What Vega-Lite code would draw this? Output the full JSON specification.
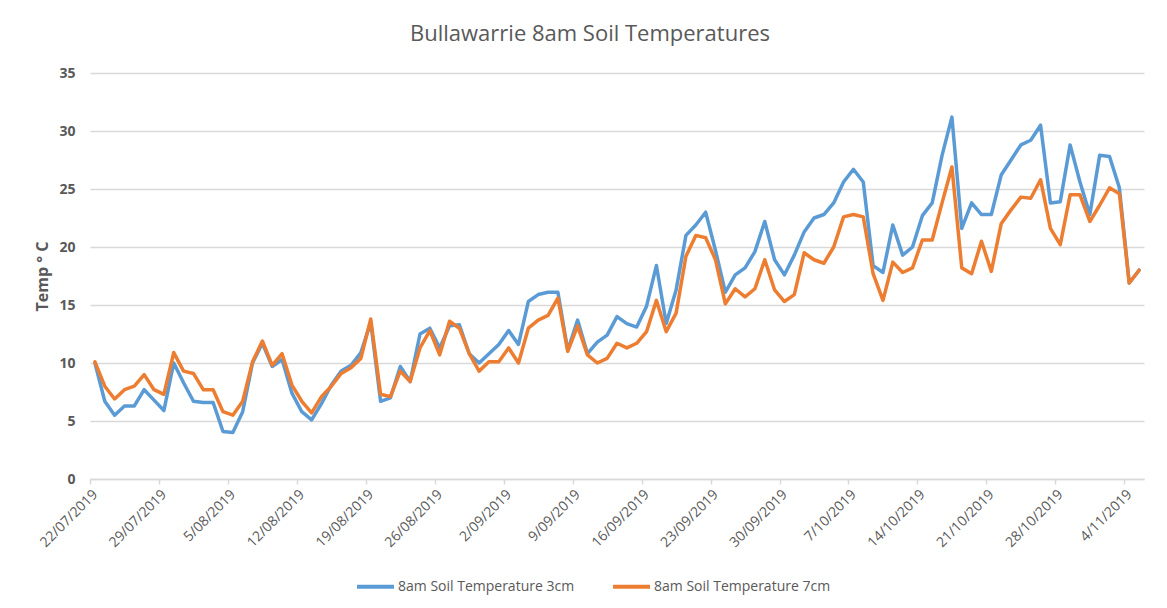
{
  "$schema": "https://vega.github.io/schema/vega-lite/v6.json",
  "width": 1054,
  "height": 406,
  "autosize": "none",
  "padding": {"left": 90, "top": 73, "right": 23, "bottom": 129},
  "background": "white",
  "title": {
    "text": "Bullawarrie 8am Soil Temperatures",
    "font": "Open Sans",
    "fontSize": 22,
    "fontWeight": "normal",
    "color": "#595959",
    "anchor": "middle",
    "dx": -27,
    "offset": 20
  },
  "data": {
    "values": [
      {"date":"2019-07-22","8am Soil Temperature 3cm":10.0,"8am Soil Temperature 7cm":10.1},
      {"date":"2019-07-23","8am Soil Temperature 3cm":6.7,"8am Soil Temperature 7cm":8.0},
      {"date":"2019-07-24","8am Soil Temperature 3cm":5.5,"8am Soil Temperature 7cm":6.9},
      {"date":"2019-07-25","8am Soil Temperature 3cm":6.3,"8am Soil Temperature 7cm":7.7},
      {"date":"2019-07-26","8am Soil Temperature 3cm":6.3,"8am Soil Temperature 7cm":8.0},
      {"date":"2019-07-27","8am Soil Temperature 3cm":7.7,"8am Soil Temperature 7cm":9.0},
      {"date":"2019-07-28","8am Soil Temperature 3cm":6.8,"8am Soil Temperature 7cm":7.7},
      {"date":"2019-07-29","8am Soil Temperature 3cm":5.9,"8am Soil Temperature 7cm":7.3},
      {"date":"2019-07-30","8am Soil Temperature 3cm":10.0,"8am Soil Temperature 7cm":10.9},
      {"date":"2019-07-31","8am Soil Temperature 3cm":8.3,"8am Soil Temperature 7cm":9.3},
      {"date":"2019-08-01","8am Soil Temperature 3cm":6.7,"8am Soil Temperature 7cm":9.1},
      {"date":"2019-08-02","8am Soil Temperature 3cm":6.6,"8am Soil Temperature 7cm":7.7},
      {"date":"2019-08-03","8am Soil Temperature 3cm":6.6,"8am Soil Temperature 7cm":7.7},
      {"date":"2019-08-04","8am Soil Temperature 3cm":4.1,"8am Soil Temperature 7cm":5.8},
      {"date":"2019-08-05","8am Soil Temperature 3cm":4.0,"8am Soil Temperature 7cm":5.5},
      {"date":"2019-08-06","8am Soil Temperature 3cm":5.8,"8am Soil Temperature 7cm":6.7},
      {"date":"2019-08-07","8am Soil Temperature 3cm":10.0,"8am Soil Temperature 7cm":10.1},
      {"date":"2019-08-08","8am Soil Temperature 3cm":11.7,"8am Soil Temperature 7cm":11.9},
      {"date":"2019-08-09","8am Soil Temperature 3cm":9.7,"8am Soil Temperature 7cm":9.8},
      {"date":"2019-08-10","8am Soil Temperature 3cm":10.3,"8am Soil Temperature 7cm":10.8},
      {"date":"2019-08-11","8am Soil Temperature 3cm":7.4,"8am Soil Temperature 7cm":8.1},
      {"date":"2019-08-12","8am Soil Temperature 3cm":5.8,"8am Soil Temperature 7cm":6.7},
      {"date":"2019-08-13","8am Soil Temperature 3cm":5.1,"8am Soil Temperature 7cm":5.7},
      {"date":"2019-08-14","8am Soil Temperature 3cm":6.5,"8am Soil Temperature 7cm":7.1},
      {"date":"2019-08-15","8am Soil Temperature 3cm":8.1,"8am Soil Temperature 7cm":8.0},
      {"date":"2019-08-16","8am Soil Temperature 3cm":9.3,"8am Soil Temperature 7cm":9.1},
      {"date":"2019-08-17","8am Soil Temperature 3cm":9.8,"8am Soil Temperature 7cm":9.6},
      {"date":"2019-08-18","8am Soil Temperature 3cm":10.9,"8am Soil Temperature 7cm":10.4},
      {"date":"2019-08-19","8am Soil Temperature 3cm":13.5,"8am Soil Temperature 7cm":13.8},
      {"date":"2019-08-20","8am Soil Temperature 3cm":6.7,"8am Soil Temperature 7cm":7.3},
      {"date":"2019-08-21","8am Soil Temperature 3cm":7.0,"8am Soil Temperature 7cm":7.1},
      {"date":"2019-08-22","8am Soil Temperature 3cm":9.7,"8am Soil Temperature 7cm":9.3},
      {"date":"2019-08-23","8am Soil Temperature 3cm":8.4,"8am Soil Temperature 7cm":8.4},
      {"date":"2019-08-24","8am Soil Temperature 3cm":12.5,"8am Soil Temperature 7cm":11.3},
      {"date":"2019-08-25","8am Soil Temperature 3cm":13.0,"8am Soil Temperature 7cm":12.8},
      {"date":"2019-08-26","8am Soil Temperature 3cm":11.3,"8am Soil Temperature 7cm":10.7},
      {"date":"2019-08-27","8am Soil Temperature 3cm":13.2,"8am Soil Temperature 7cm":13.6},
      {"date":"2019-08-28","8am Soil Temperature 3cm":13.3,"8am Soil Temperature 7cm":13.0},
      {"date":"2019-08-29","8am Soil Temperature 3cm":10.8,"8am Soil Temperature 7cm":10.8},
      {"date":"2019-08-30","8am Soil Temperature 3cm":10.0,"8am Soil Temperature 7cm":9.3},
      {"date":"2019-08-31","8am Soil Temperature 3cm":10.8,"8am Soil Temperature 7cm":10.1},
      {"date":"2019-09-01","8am Soil Temperature 3cm":11.6,"8am Soil Temperature 7cm":10.1},
      {"date":"2019-09-02","8am Soil Temperature 3cm":12.8,"8am Soil Temperature 7cm":11.3},
      {"date":"2019-09-03","8am Soil Temperature 3cm":11.6,"8am Soil Temperature 7cm":10.0},
      {"date":"2019-09-04","8am Soil Temperature 3cm":15.3,"8am Soil Temperature 7cm":13.0},
      {"date":"2019-09-05","8am Soil Temperature 3cm":15.9,"8am Soil Temperature 7cm":13.7},
      {"date":"2019-09-06","8am Soil Temperature 3cm":16.1,"8am Soil Temperature 7cm":14.1},
      {"date":"2019-09-07","8am Soil Temperature 3cm":16.1,"8am Soil Temperature 7cm":15.6},
      {"date":"2019-09-08","8am Soil Temperature 3cm":11.1,"8am Soil Temperature 7cm":11.0},
      {"date":"2019-09-09","8am Soil Temperature 3cm":13.7,"8am Soil Temperature 7cm":13.2},
      {"date":"2019-09-10","8am Soil Temperature 3cm":10.8,"8am Soil Temperature 7cm":10.7},
      {"date":"2019-09-11","8am Soil Temperature 3cm":11.8,"8am Soil Temperature 7cm":10.0},
      {"date":"2019-09-12","8am Soil Temperature 3cm":12.4,"8am Soil Temperature 7cm":10.4},
      {"date":"2019-09-13","8am Soil Temperature 3cm":14.0,"8am Soil Temperature 7cm":11.7},
      {"date":"2019-09-14","8am Soil Temperature 3cm":13.4,"8am Soil Temperature 7cm":11.3},
      {"date":"2019-09-15","8am Soil Temperature 3cm":13.1,"8am Soil Temperature 7cm":11.7},
      {"date":"2019-09-16","8am Soil Temperature 3cm":14.9,"8am Soil Temperature 7cm":12.7},
      {"date":"2019-09-17","8am Soil Temperature 3cm":18.4,"8am Soil Temperature 7cm":15.4},
      {"date":"2019-09-18","8am Soil Temperature 3cm":13.4,"8am Soil Temperature 7cm":12.7},
      {"date":"2019-09-19","8am Soil Temperature 3cm":16.3,"8am Soil Temperature 7cm":14.3},
      {"date":"2019-09-20","8am Soil Temperature 3cm":21.0,"8am Soil Temperature 7cm":19.2},
      {"date":"2019-09-21","8am Soil Temperature 3cm":21.9,"8am Soil Temperature 7cm":21.0},
      {"date":"2019-09-22","8am Soil Temperature 3cm":23.0,"8am Soil Temperature 7cm":20.8},
      {"date":"2019-09-23","8am Soil Temperature 3cm":19.7,"8am Soil Temperature 7cm":18.9},
      {"date":"2019-09-24","8am Soil Temperature 3cm":16.1,"8am Soil Temperature 7cm":15.1},
      {"date":"2019-09-25","8am Soil Temperature 3cm":17.6,"8am Soil Temperature 7cm":16.4},
      {"date":"2019-09-26","8am Soil Temperature 3cm":18.2,"8am Soil Temperature 7cm":15.7},
      {"date":"2019-09-27","8am Soil Temperature 3cm":19.6,"8am Soil Temperature 7cm":16.4},
      {"date":"2019-09-28","8am Soil Temperature 3cm":22.2,"8am Soil Temperature 7cm":18.9},
      {"date":"2019-09-29","8am Soil Temperature 3cm":18.9,"8am Soil Temperature 7cm":16.3},
      {"date":"2019-09-30","8am Soil Temperature 3cm":17.6,"8am Soil Temperature 7cm":15.3},
      {"date":"2019-10-01","8am Soil Temperature 3cm":19.3,"8am Soil Temperature 7cm":15.9},
      {"date":"2019-10-02","8am Soil Temperature 3cm":21.3,"8am Soil Temperature 7cm":19.5},
      {"date":"2019-10-03","8am Soil Temperature 3cm":22.5,"8am Soil Temperature 7cm":18.9},
      {"date":"2019-10-04","8am Soil Temperature 3cm":22.8,"8am Soil Temperature 7cm":18.6},
      {"date":"2019-10-05","8am Soil Temperature 3cm":23.8,"8am Soil Temperature 7cm":20.0},
      {"date":"2019-10-06","8am Soil Temperature 3cm":25.6,"8am Soil Temperature 7cm":22.6},
      {"date":"2019-10-07","8am Soil Temperature 3cm":26.7,"8am Soil Temperature 7cm":22.8},
      {"date":"2019-10-08","8am Soil Temperature 3cm":25.6,"8am Soil Temperature 7cm":22.6},
      {"date":"2019-10-09","8am Soil Temperature 3cm":18.4,"8am Soil Temperature 7cm":17.7},
      {"date":"2019-10-10","8am Soil Temperature 3cm":17.8,"8am Soil Temperature 7cm":15.4},
      {"date":"2019-10-11","8am Soil Temperature 3cm":21.9,"8am Soil Temperature 7cm":18.7},
      {"date":"2019-10-12","8am Soil Temperature 3cm":19.3,"8am Soil Temperature 7cm":17.8},
      {"date":"2019-10-13","8am Soil Temperature 3cm":20.0,"8am Soil Temperature 7cm":18.2},
      {"date":"2019-10-14","8am Soil Temperature 3cm":22.7,"8am Soil Temperature 7cm":20.6},
      {"date":"2019-10-15","8am Soil Temperature 3cm":23.8,"8am Soil Temperature 7cm":20.6},
      {"date":"2019-10-16","8am Soil Temperature 3cm":27.9,"8am Soil Temperature 7cm":23.8},
      {"date":"2019-10-17","8am Soil Temperature 3cm":31.2,"8am Soil Temperature 7cm":26.9},
      {"date":"2019-10-18","8am Soil Temperature 3cm":21.6,"8am Soil Temperature 7cm":18.2},
      {"date":"2019-10-19","8am Soil Temperature 3cm":23.8,"8am Soil Temperature 7cm":17.7},
      {"date":"2019-10-20","8am Soil Temperature 3cm":22.8,"8am Soil Temperature 7cm":20.5},
      {"date":"2019-10-21","8am Soil Temperature 3cm":22.8,"8am Soil Temperature 7cm":17.9},
      {"date":"2019-10-22","8am Soil Temperature 3cm":26.2,"8am Soil Temperature 7cm":22.0},
      {"date":"2019-10-23","8am Soil Temperature 3cm":27.5,"8am Soil Temperature 7cm":23.2},
      {"date":"2019-10-24","8am Soil Temperature 3cm":28.8,"8am Soil Temperature 7cm":24.3},
      {"date":"2019-10-25","8am Soil Temperature 3cm":29.2,"8am Soil Temperature 7cm":24.2},
      {"date":"2019-10-26","8am Soil Temperature 3cm":30.5,"8am Soil Temperature 7cm":25.8},
      {"date":"2019-10-27","8am Soil Temperature 3cm":23.8,"8am Soil Temperature 7cm":21.6},
      {"date":"2019-10-28","8am Soil Temperature 3cm":23.9,"8am Soil Temperature 7cm":20.2},
      {"date":"2019-10-29","8am Soil Temperature 3cm":28.8,"8am Soil Temperature 7cm":24.5},
      {"date":"2019-10-30","8am Soil Temperature 3cm":25.6,"8am Soil Temperature 7cm":24.5},
      {"date":"2019-10-31","8am Soil Temperature 3cm":22.8,"8am Soil Temperature 7cm":22.2},
      {"date":"2019-11-01","8am Soil Temperature 3cm":27.9,"8am Soil Temperature 7cm":23.6},
      {"date":"2019-11-02","8am Soil Temperature 3cm":27.8,"8am Soil Temperature 7cm":25.1},
      {"date":"2019-11-03","8am Soil Temperature 3cm":25.1,"8am Soil Temperature 7cm":24.6},
      {"date":"2019-11-04","8am Soil Temperature 3cm":16.9,"8am Soil Temperature 7cm":16.9},
      {"date":"2019-11-05","8am Soil Temperature 3cm":18.0,"8am Soil Temperature 7cm":18.0}
    ]
  },
  "transform": [
    {"fold": ["8am Soil Temperature 3cm", "8am Soil Temperature 7cm"], "as": ["series", "temp"]}
  ],
  "mark": {"type": "line", "strokeWidth": 3.5, "strokeJoin": "round", "strokeCap": "round"},
  "encoding": {
    "x": {
      "field": "date",
      "type": "temporal",
      "timeUnit": "utcyearmonthdate",
      "bandPosition": 0.5,
      "scale": {
        "nice": false,
        "domain": [
          {"year": 2019, "month": 7, "date": 22, "utc": true},
          {"year": 2019, "month": 11, "date": 6, "utc": true}
        ]
      },
      "axis": {
        "title": null,
        "values": [
          {"year": 2019, "month": 7, "date": 22, "utc": true},
          {"year": 2019, "month": 7, "date": 29, "utc": true},
          {"year": 2019, "month": 8, "date": 5, "utc": true},
          {"year": 2019, "month": 8, "date": 12, "utc": true},
          {"year": 2019, "month": 8, "date": 19, "utc": true},
          {"year": 2019, "month": 8, "date": 26, "utc": true},
          {"year": 2019, "month": 9, "date": 2, "utc": true},
          {"year": 2019, "month": 9, "date": 9, "utc": true},
          {"year": 2019, "month": 9, "date": 16, "utc": true},
          {"year": 2019, "month": 9, "date": 23, "utc": true},
          {"year": 2019, "month": 9, "date": 30, "utc": true},
          {"year": 2019, "month": 10, "date": 7, "utc": true},
          {"year": 2019, "month": 10, "date": 14, "utc": true},
          {"year": 2019, "month": 10, "date": 21, "utc": true},
          {"year": 2019, "month": 10, "date": 28, "utc": true},
          {"year": 2019, "month": 11, "date": 4, "utc": true}
        ],
        "format": "%-d/%m/%Y",
        "labelAngle": -45,
        "labelAlign": "right",
        "labelBaseline": "middle",
        "labelFont": "Open Sans",
        "labelFontSize": 14,
        "labelColor": "#595959",
        "labelPadding": 8,
        "labelOffset": 5,
        "labelOverlap": false,
        "labelFlush": false,
        "grid": false,
        "domainColor": "#D9D9D9",
        "domainWidth": 1.5,
        "tickColor": "#D9D9D9",
        "tickSize": 5,
        "tickWidth": 1.5
      }
    },
    "y": {
      "field": "temp",
      "type": "quantitative",
      "scale": {"domain": [0, 35], "nice": false},
      "axis": {
        "title": "Temp ° C",
        "titleFont": "Open Sans",
        "titleFontSize": 16,
        "titleFontWeight": "bold",
        "titleColor": "#595959",
        "titlePadding": 8,
        "values": [0, 5, 10, 15, 20, 25, 30, 35],
        "labelFont": "Open Sans",
        "labelFontSize": 14,
        "labelFontWeight": "bold",
        "labelColor": "#595959",
        "labelPadding": 15,
        "domain": false,
        "ticks": false,
        "grid": true,
        "gridColor": "#D9D9D9",
        "gridWidth": 1.5
      }
    },
    "color": {
      "field": "series",
      "type": "nominal",
      "scale": {
        "domain": ["8am Soil Temperature 3cm", "8am Soil Temperature 7cm"],
        "range": ["#5B9BD5", "#ED7D31"]
      },
      "legend": {
        "title": null,
        "orient": "none",
        "direction": "horizontal",
        "legendX": 265,
        "legendY": 493,
        "symbolType": "stroke",
        "symbolSize": 1369,
        "symbolStrokeWidth": 4,
        "labelFont": "Open Sans",
        "labelFontSize": 14,
        "labelColor": "#595959",
        "labelOffset": 2,
        "labelLimit": 0,
        "columnPadding": 30
      }
    }
  },
  "config": {
    "view": {"stroke": null}
  }
}
